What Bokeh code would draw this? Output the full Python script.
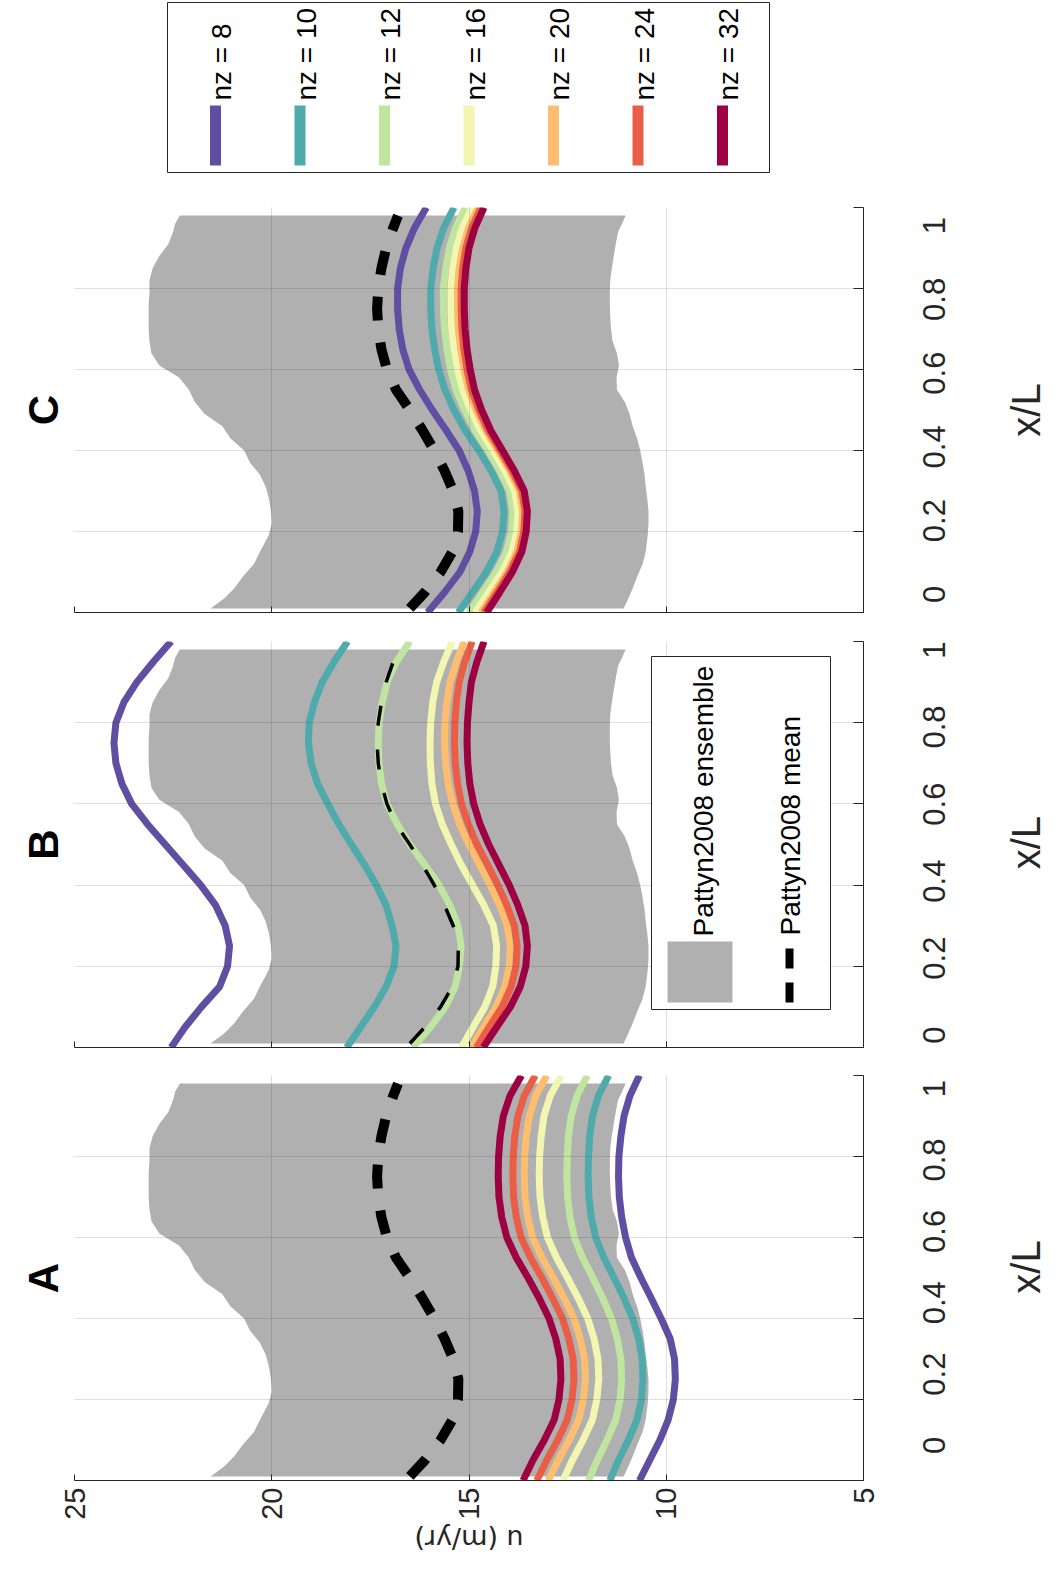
import math
from bokeh.plotting import figure
from bokeh.models import Range1d, FixedTicker
from bokeh.layouts import column, row
from bokeh.embed import file_html
from bokeh.resources import INLINE
from bokeh.core.properties import value

# ---------------- data ----------------
XL = [0.00, 0.05, 0.10, 0.15, 0.20, 0.25, 0.30, 0.35, 0.40, 0.45, 0.50,
      0.55, 0.60, 0.65, 0.70, 0.75, 0.80, 0.85, 0.90, 0.95, 1.00]

NZ_LABELS = ["nz = 8", "nz = 10", "nz = 12", "nz = 16", "nz = 20", "nz = 24", "nz = 32"]
NZ_COLORS = ["#5e4fa2", "#4eaaab", "#bfe5a0", "#f2f6b0", "#fdbe6f", "#ea5e47", "#9e0142"]

# Pattyn2008 ensemble envelope (same in every panel)
ENS_X = [0.01, 0.035, 0.06, 0.09, 0.12, 0.15, 0.19, 0.22, 0.25, 0.28, 0.31, 0.34,
         0.37, 0.40, 0.43, 0.46, 0.49, 0.52, 0.55, 0.58, 0.61, 0.64, 0.67, 0.70,
         0.73, 0.76, 0.79, 0.82, 0.85, 0.88, 0.91, 0.94, 0.96, 0.98]
ENS_HI = [21.55, 21.20, 20.95, 20.72, 20.45, 20.30, 20.08, 20.00, 20.02, 20.07, 20.15, 20.30,
          20.55, 20.70, 21.05, 21.25, 21.70, 21.95, 22.10, 22.35, 22.85, 23.05, 23.10, 23.12,
          23.12, 23.12, 23.10, 23.10, 23.02, 22.85, 22.62, 22.50, 22.45, 22.33]
ENS_LO = [11.08, 10.96, 10.85, 10.73, 10.60, 10.52, 10.47, 10.45, 10.45, 10.48, 10.52, 10.55,
          10.60, 10.66, 10.74, 10.85, 10.93, 11.05, 11.25, 11.26, 11.20, 11.25, 11.36, 11.40,
          11.42, 11.43, 11.43, 11.42, 11.38, 11.33, 11.28, 11.22, 11.12, 11.03]

# Pattyn2008 mean
MEAN_X = [0.01, 0.05, 0.10, 0.15, 0.20, 0.25, 0.30, 0.35, 0.40, 0.45, 0.50,
          0.55, 0.60, 0.65, 0.70, 0.75, 0.80, 0.85, 0.90, 0.95, 0.98]
MEAN_U = [16.50, 16.12, 15.72, 15.42, 15.28, 15.27, 15.40, 15.62, 15.88, 16.18, 16.50,
          16.85, 17.08, 17.22, 17.30, 17.33, 17.30, 17.22, 17.10, 16.92, 16.80]

# Panel A
A_NZ8 = [10.68, 10.42, 10.16, 9.95, 9.82, 9.77, 9.79, 9.90, 10.13, 10.38, 10.64, 10.88, 11.03, 11.13, 11.19, 11.21, 11.20, 11.15, 11.07, 10.92, 10.68]
A_NZ10 = [11.43, 11.21, 10.96, 10.74, 10.63, 10.59, 10.61, 10.70, 10.85, 11.07, 11.32, 11.58, 11.79, 11.90, 11.96, 11.98, 11.97, 11.94, 11.87, 11.72, 11.46]
A_NZ12 = [11.97, 11.75, 11.50, 11.28, 11.17, 11.13, 11.15, 11.24, 11.39, 11.61, 11.86, 12.12, 12.33, 12.44, 12.50, 12.52, 12.51, 12.48, 12.41, 12.26, 12.00]
A_NZ16 = [12.62, 12.38, 12.11, 11.87, 11.76, 11.71, 11.73, 11.83, 11.99, 12.23, 12.50, 12.78, 13.01, 13.13, 13.20, 13.22, 13.21, 13.17, 13.10, 12.94, 12.66]
A_NZ20 = [12.99, 12.74, 12.46, 12.22, 12.10, 12.05, 12.07, 12.18, 12.34, 12.59, 12.86, 13.15, 13.39, 13.51, 13.58, 13.60, 13.59, 13.55, 13.47, 13.31, 13.03]
A_NZ24 = [13.28, 13.03, 12.75, 12.51, 12.39, 12.34, 12.36, 12.47, 12.63, 12.88, 13.15, 13.44, 13.68, 13.80, 13.87, 13.89, 13.88, 13.84, 13.76, 13.60, 13.32]
A_NZ32 = [13.63, 13.38, 13.09, 12.84, 12.72, 12.67, 12.69, 12.80, 12.97, 13.22, 13.50, 13.80, 14.04, 14.17, 14.24, 14.26, 14.25, 14.21, 14.13, 13.96, 13.67]

# Panel B
B_NZ8 = [22.55, 22.20, 21.78, 21.32, 21.12, 21.07, 21.18, 21.42, 21.80, 22.25, 22.70, 23.15, 23.55, 23.80, 23.95, 24.00, 23.95, 23.75, 23.42, 23.00, 22.55]
B_NZ10 = [18.10, 17.75, 17.40, 17.10, 16.90, 16.85, 16.95, 17.10, 17.35, 17.65, 17.98, 18.30, 18.58, 18.84, 19.00, 19.07, 19.05, 18.92, 18.72, 18.42, 18.08]
B_NZ12 = [16.42, 15.98, 15.60, 15.35, 15.24, 15.20, 15.28, 15.48, 15.76, 16.12, 16.50, 16.82, 17.08, 17.22, 17.28, 17.30, 17.28, 17.20, 17.08, 16.84, 16.50]
B_NZ16 = [15.19, 14.90, 14.60, 14.40, 14.32, 14.30, 14.38, 14.62, 14.91, 15.20, 15.45, 15.68, 15.85, 15.94, 15.98, 15.99, 15.97, 15.92, 15.82, 15.64, 15.42]
B_NZ20 = [14.94, 14.63, 14.31, 14.09, 13.98, 13.95, 14.03, 14.22, 14.46, 14.73, 15.00, 15.24, 15.41, 15.53, 15.59, 15.62, 15.61, 15.56, 15.48, 15.32, 15.12]
B_NZ24 = [14.81, 14.49, 14.16, 13.93, 13.81, 13.78, 13.85, 14.04, 14.27, 14.53, 14.80, 15.02, 15.19, 15.29, 15.35, 15.37, 15.36, 15.32, 15.25, 15.11, 14.92]
B_NZ32 = [14.64, 14.30, 13.95, 13.70, 13.56, 13.52, 13.58, 13.76, 13.98, 14.24, 14.50, 14.72, 14.88, 14.98, 15.03, 15.05, 15.04, 15.00, 14.94, 14.80, 14.62]

# Panel C
C_NZ8 = [16.05, 15.62, 15.23, 14.98, 14.83, 14.79, 14.86, 15.02, 15.25, 15.58, 15.93, 16.25, 16.52, 16.68, 16.77, 16.81, 16.81, 16.74, 16.60, 16.38, 16.08]
C_NZ10 = [15.27, 14.91, 14.56, 14.29, 14.15, 14.11, 14.19, 14.44, 14.75, 15.10, 15.38, 15.61, 15.77, 15.87, 15.94, 15.97, 15.97, 15.91, 15.81, 15.64, 15.38]
C_NZ12 = [15.00, 14.65, 14.31, 14.05, 13.92, 13.89, 13.97, 14.22, 14.52, 14.85, 15.11, 15.33, 15.47, 15.56, 15.62, 15.65, 15.65, 15.59, 15.50, 15.34, 15.09]
C_NZ16 = [14.84, 14.50, 14.16, 13.91, 13.79, 13.76, 13.84, 14.09, 14.39, 14.71, 14.96, 15.16, 15.29, 15.38, 15.44, 15.46, 15.46, 15.41, 15.32, 15.17, 14.92]
C_NZ20 = [14.69, 14.36, 14.03, 13.79, 13.67, 13.64, 13.72, 13.97, 14.27, 14.58, 14.82, 15.01, 15.13, 15.21, 15.27, 15.29, 15.29, 15.25, 15.16, 15.01, 14.77]
C_NZ24 = [14.62, 14.29, 13.97, 13.72, 13.61, 13.58, 13.66, 13.91, 14.21, 14.52, 14.75, 14.94, 15.05, 15.13, 15.18, 15.20, 15.20, 15.16, 15.08, 14.93, 14.70]
C_NZ32 = [14.55, 14.22, 13.90, 13.66, 13.55, 13.52, 13.60, 13.85, 14.15, 14.45, 14.68, 14.86, 14.97, 15.05, 15.10, 15.12, 15.12, 15.08, 15.00, 14.85, 14.62]

U_TICKS = [5, 10, 15, 20, 25]
XL_TICKS = [0.0, 0.2, 0.4, 0.6, 0.8, 1.0]
XL_TICK_LABELS = ["0", "0.2", "0.4", "0.6", "0.8", "1"]
ENS_LABEL = "Pattyn2008 ensemble"
MEAN_LABEL = "Pattyn2008 mean"
U_LABEL = "u (m/yr)"
XL_LABEL = "x/L"

# ---------------- style / layout ----------------
FONT = "Liberation Sans"
AXIS_COLOR = "#262626"
ENS_COLOR = "#b0b0b0"
W = 1046                 # total width of the chart
PANEL_W = 880            # width of each panel figure
LAB_W = W - PANEL_W      # width of the x/L label strip right of each panel
FRAME_L = 74             # frame left edge inside panel figures (page x 82)
FRAME_R = 863            # frame right edge inside panel figures (page x 871)
U_PER_PX = 20 / 789.0


def px_to_u(px):
    """page x pixel -> u value (u=25 at page x 82, u=5 at page x 871)"""
    return 25 - (px - 82) * U_PER_PX


def base_fig(width, height, x_range, y_range, **kw):
    f = figure(width=width, height=height, x_range=x_range, y_range=y_range,
               output_backend="svg", toolbar_location=None, **kw)
    f.outline_line_color = None
    f.background_fill_color = "white"
    f.border_fill_color = "white"
    return f


def make_panel(letter, height, b_top, b_bottom, show_u_labels):
    p = base_fig(PANEL_W, height, Range1d(25, 5), Range1d(0, 1),
                 y_axis_location="right", title=letter, title_location="left",
                 min_border_left=FRAME_L, min_border_right=PANEL_W - FRAME_R,
                 min_border_top=b_top, min_border_bottom=b_bottom)
    p.title.text_font = FONT
    p.title.text_font_size = "42px"
    p.title.text_font_style = "bold"
    p.title.align = "center"
    p.title.standoff = 16
    p.title.text_color = "black"

    xa = p.xaxis[0]
    xa.ticker = FixedTicker(ticks=U_TICKS)
    xa.axis_line_color = AXIS_COLOR
    xa.major_tick_line_color = AXIS_COLOR
    xa.major_tick_in = 6
    xa.major_tick_out = 0
    xa.minor_tick_line_color = None
    if show_u_labels:
        xa.major_label_orientation = math.pi / 2
        xa.major_label_text_font = FONT
        xa.major_label_text_font_size = "29px"
        xa.major_label_text_color = AXIS_COLOR
        xa.major_label_standoff = 7
    else:
        xa.major_label_text_color = None
        xa.major_label_text_font_size = "8px"
        xa.major_label_standoff = 0

    ya = p.yaxis[0]
    ya.ticker = FixedTicker(ticks=XL_TICKS)
    ya.axis_line_color = AXIS_COLOR
    ya.major_tick_line_color = AXIS_COLOR
    ya.major_tick_in = 10
    ya.major_tick_out = 0
    ya.minor_tick_line_color = None
    ya.major_label_text_color = None
    ya.major_label_text_font_size = "8px"
    ya.major_label_standoff = 0

    p.xgrid.ticker = FixedTicker(ticks=U_TICKS)
    p.ygrid.ticker = FixedTicker(ticks=XL_TICKS)
    p.grid.grid_line_color = AXIS_COLOR
    p.grid.grid_line_alpha = 0.15
    p.grid.level = "annotation"
    return p


def make_xl_strip(height, b_top, b_bottom):
    """x/L tick labels and axis label, reading bottom-to-top, right of a panel"""
    fh = float(height - b_top - b_bottom)
    s = base_fig(LAB_W, height, Range1d(0, LAB_W), Range1d(-b_bottom / fh, 1 + b_top / fh),
                 x_axis_location=None, y_axis_location=None, min_border=0)
    s.grid.visible = False
    n = len(XL_TICKS)
    s.text(x=[941 - 8 - PANEL_W] * n, y=XL_TICKS, text=XL_TICK_LABELS, angle=math.pi / 2,
           text_align="center", text_baseline="middle",
           text_font=value(FONT), text_font_size=value("31px"), text_color=AXIS_COLOR)
    s.text(x=[1033 - 8 - PANEL_W], y=[0.5], text=[XL_LABEL], angle=math.pi / 2,
           text_align="center", text_baseline="middle",
           text_font=value(FONT), text_font_size=value("40px"), text_color=AXIS_COLOR)
    return s


def draw_data(p, curves, mean_width, mean_dash):
    p.harea(y=ENS_X, x1=ENS_LO, x2=ENS_HI, fill_color=ENS_COLOR)
    for vals, col in zip(curves, NZ_COLORS):
        p.line(x=vals, y=XL, line_color=col, line_width=7)
    p.line(x=MEAN_U, y=MEAN_X, line_color="black", line_width=mean_width, line_dash=mean_dash)


# Panel C (top): page y 195..640, frame 215..620
pC = make_panel("C", 445, 20, 20, False)
draw_data(pC, [C_NZ8, C_NZ10, C_NZ12, C_NZ16, C_NZ20, C_NZ24, C_NZ32], 10, "24 22")
sC = make_xl_strip(445, 20, 20)

# Panel B (middle): page y 640..1068, frame 649..1055
pB = make_panel("B", 428, 9, 13, False)
draw_data(pB, [B_NZ8, B_NZ10, B_NZ12, B_NZ16, B_NZ20, B_NZ24, B_NZ32], 3.5, "20 24")
sB = make_xl_strip(428, 9, 13)


def bxl(py):
    """page y pixel -> x/L in panel B (x/L=0 at page y 1055, 1 at 649)"""
    return (1055 - py) / 406.0


# legend inside panel B
pB.quad(left=px_to_u(659), right=px_to_u(838), top=bxl(664), bottom=bxl(1017),
        fill_color="white", line_color=AXIS_COLOR, line_width=1, level="overlay")
pB.quad(left=px_to_u(675), right=px_to_u(740), top=bxl(949), bottom=bxl(1010),
        fill_color=ENS_COLOR, line_color=None, level="overlay")
pB.segment(x0=[px_to_u(797)], y0=[bxl(1010)], x1=[px_to_u(797)], y1=[bxl(953)],
           line_color="black", line_width=8, line_dash="20 14", level="overlay")
pB.text(x=[px_to_u(711), px_to_u(798)], y=[bxl(944), bxl(943)], text=[ENS_LABEL, MEAN_LABEL],
        angle=math.pi / 2, text_align="left", text_baseline="middle",
        text_font=value(FONT), text_font_size=value("28px"), text_color="black",
        level="overlay")

# Panel A (bottom): page y 1068..1530, frame 1083..1490
pA = make_panel("A", 462, 15, 40, True)
draw_data(pA, [A_NZ8, A_NZ10, A_NZ12, A_NZ16, A_NZ20, A_NZ24, A_NZ32], 10, "24 22")
sA = make_xl_strip(462, 15, 40)

# u axis label strip under panel A (same u scale), text upside down as in the source
ul = base_fig(PANEL_W, 33,
              Range1d(25 + FRAME_L * U_PER_PX, 5 - (PANEL_W - FRAME_R) * U_PER_PX),
              Range1d(0, 1), x_axis_location=None, y_axis_location=None, min_border=0)
ul.grid.visible = False
ul.text(x=[15], y=[0.5], text=[U_LABEL], angle=math.pi, text_align="center",
        text_baseline="middle", text_font=value("DejaVu Sans"), text_font_size=value("27px"),
        text_color=AXIS_COLOR)

# ---------------- nz legend (top strip): page y 8..195 ----------------
LH = 187
leg = base_fig(W, LH, Range1d(0, W), Range1d(0, LH),
               x_axis_location=None, y_axis_location=None, min_border=0)
leg.grid.visible = False
# page coords -> legend coords: X = px - 8, Y = 195 - py
leg.quad(left=[175 - 8], right=[777 - 8], top=[195 - 10], bottom=[195 - 180],
         fill_color="white", line_color=AXIS_COLOR, line_width=1)
n = len(NZ_LABELS)
lx = [223 - 8 + 84.5 * i for i in range(n)]
leg.segment(x0=lx, y0=[195 - 173] * n, x1=lx, y1=[195 - 113] * n,
            line_color=NZ_COLORS, line_width=11)
leg.text(x=[v + 6 for v in lx], y=[195 - 108] * n, text=NZ_LABELS, angle=math.pi / 2,
         text_align="left", text_baseline="middle",
         text_font=value(FONT), text_font_size=value("28px"), text_color="black")

layout = column(leg, row(pC, sC, spacing=0), row(pB, sB, spacing=0), row(pA, sA, spacing=0), ul,
                spacing=0)
open("out.html", "w").write(file_html(layout, INLINE, "u profiles"))
